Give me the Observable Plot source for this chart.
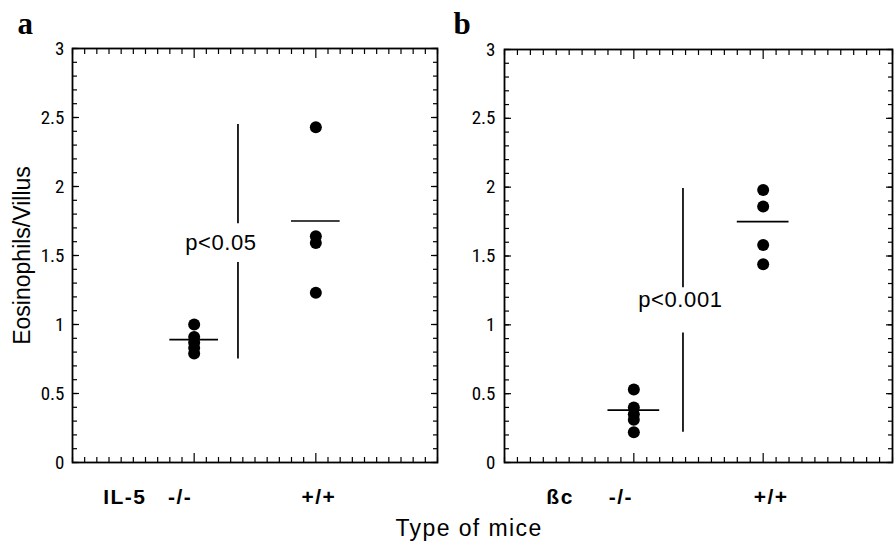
<!DOCTYPE html>
<html>
<head>
<meta charset="utf-8">
<script src="https://cdn.jsdelivr.net/npm/d3@7"></script>
<script src="https://cdn.jsdelivr.net/npm/@observablehq/plot@0.6"></script>
<style>
  body { margin: 0; background: white; }
  #chart { position: relative; width: 895px; height: 544px; background: white; font-family: "Liberation Sans", Arial, sans-serif; }
  #pa { position: absolute; left: 0; top: 0; }
  #pb { position: absolute; left: 445px; top: 0; }
  #xlabel { position: absolute; left: 469px; top: 517px; transform: translateX(-50%); font-size: 23px; line-height: 22px; letter-spacing: 1.4px; white-space: nowrap; color: black; }
</style>
</head>
<body>
<div id="chart">
  <div id="pa"></div>
  <div id="pb"></div>
  <div id="xlabel">Type of mice</div>
</div>
<script>
// ---- data ----
const categories = ["-/-", "+/+"];
const categoryPos = [1, 2];
const yLabel = "Eosinophils/Villus";
const xLabel = "Type of mice";

// panel a : IL-5
const groupA = "IL-5";
const koA = [1.0, 0.91, 0.87, 0.83, 0.79];
const wtA = [2.43, 1.64, 1.59, 1.23];
const meanA = [0.89, 1.75];
const pTextA = "p<0.05";
const pPosA = [1.22, 1.59];           // label x, y
const pLineXA = 1.36;
const pSegA = [[2.45, 1.73], [1.45, 0.75]];

// panel b : βc
const groupB = "ßc";
const koB = [0.53, 0.40, 0.35, 0.31, 0.22];
const wtB = [1.98, 1.86, 1.58, 1.44];
const meanB = [0.38, 1.75];
const pTextB = "p<0.001";
const pPosB = [1.36, 1.18];
const pLineXB = 1.38;
const pSegB = [[1.99, 1.27], [0.94, 0.22]];

// ticks
const yTickLabels = [0, 0.5, 1, 1.5, 2, 2.5, 3];
const yMinorTicks = d3.range(0, 31).map(i => i / 10);
const xMajorTicks = [1, 2];
const xMinorTicks = d3.range(0, 31).map(i => i / 10).filter(v => v !== 1 && v !== 2);
const groupLabelX = 0.43;

function panel(o) {
  const dots = [
    ...o.ko.map(v => ({g: categoryPos[0], v})),
    ...o.wt.map(v => ({g: categoryPos[1], v}))
  ];
  const means = o.mean.map((v, i) => ({g: categoryPos[i], v}));
  const tickStyle = {fill: "none", label: null, strokeWidth: 1.2};
  const marks = [
    Plot.frame({strokeWidth: 1.8}),
    Plot.axisY({anchor: "left", ticks: yMinorTicks, tickSize: -5, ...tickStyle}),
    Plot.axisY({anchor: "left", ticks: yTickLabels, tickSize: -7, ...tickStyle}),
    Plot.axisY({anchor: "right", ticks: yMinorTicks, tickSize: -5, ...tickStyle}),
    Plot.axisY({anchor: "right", ticks: yTickLabels, tickSize: -7, ...tickStyle}),
    Plot.axisY({anchor: "left", ticks: yTickLabels, tickSize: 0, tickPadding: o.tickPad, tickFormat: d => String(d), label: null, fontSize: 19, fontFamily: "'Liberation Sans Narrow', 'Roboto Condensed', 'Liberation Sans', sans-serif"}),
    Plot.axisX({anchor: "top", ticks: xMinorTicks, tickSize: -5, ...tickStyle}),
    Plot.axisX({anchor: "top", ticks: xMajorTicks, tickSize: -9, ...tickStyle}),
    Plot.axisX({anchor: "bottom", ticks: xMinorTicks, tickSize: -5, ...tickStyle}),
    Plot.axisX({anchor: "bottom", ticks: xMajorTicks, tickSize: -9, ...tickStyle}),
    Plot.dot(dots, {x: "g", y: "v", r: 6, fill: "black", stroke: "none"}),
    Plot.ruleY(means, {y: "v", x1: d => d.g - 0.2, x2: d => d.g + 0.2, strokeWidth: 1.7}),
    Plot.ruleX(o.pSeg, {x: o.pLineX, y1: d => d[0], y2: d => d[1], strokeWidth: 1.7}),
    Plot.text([o.pText], {x: o.pPos[0], y: o.pPos[1], fontSize: 22}),
    Plot.text([o.group], {x: groupLabelX, frameAnchor: "bottom", dy: 41, lineAnchor: "bottom", fontSize: 21, fontWeight: "bold"}),
    ...categories.map((c, i) => Plot.text([c], {x: categoryPos[i], dx: o.catDx[i], frameAnchor: "bottom", dy: 41, lineAnchor: "bottom", fontSize: 21, fontWeight: "bold"})),
    Plot.text([o.letter], {frameAnchor: "top-left", dx: o.letterDx, dy: o.letterDy, textAnchor: "start", lineAnchor: "bottom", fontSize: 31, fontWeight: "bold", fontFamily: "'Liberation Serif', 'DejaVu Serif', serif"})
  ];
  if (o.yLabel) marks.push(Plot.text([o.yLabel], {frameAnchor: "left", dx: -50, rotate: -90, textAnchor: "middle", lineAnchor: "middle", fontSize: 23}));
  const svg = Plot.plot({
    width: o.width, height: 544,
    marginLeft: o.marginLeft, marginRight: o.marginRight, marginTop: o.marginTop, marginBottom: 82,
    x: {domain: [0, 3]},
    y: {domain: [0, 3]},
    style: {fontFamily: "'Liberation Sans', Arial, sans-serif", color: "black", background: "white"},
    marks
  });
  const catTexts = [o.group, ...categories];
  d3.select(svg).selectAll("text")
    .filter(function() { return catTexts.includes(this.textContent); })
    .style("letter-spacing", "1.5px");
  d3.select(svg).selectAll("text")
    .filter(function() { return this.textContent === o.pText; })
    .style("letter-spacing", "0.6px");
  return svg;
}

document.getElementById("pa").append(panel({
  width: 445, marginLeft: 72, marginRight: 8, marginTop: 48, tickPad: 8,
  ko: koA, wt: wtA, mean: meanA, pText: pTextA, pPos: pPosA, pLineX: pLineXA, pSeg: pSegA,
  group: groupA, catDx: [-14, 3], letter: "a", letterDx: -55, letterDy: -15, yLabel: yLabel
}));
document.getElementById("pb").append(panel({
  width: 450, marginLeft: 59, marginRight: 3, marginTop: 49, tickPad: 9,
  ko: koB, wt: wtB, mean: meanB, pText: pTextB, pPos: pPosB, pLineX: pLineXB, pSeg: pSegB,
  group: groupB, catDx: [-13, 8], letter: "b", letterDx: -51, letterDy: -16
}));
document.getElementById("xlabel").textContent = xLabel;
</script>
</body>
</html>
